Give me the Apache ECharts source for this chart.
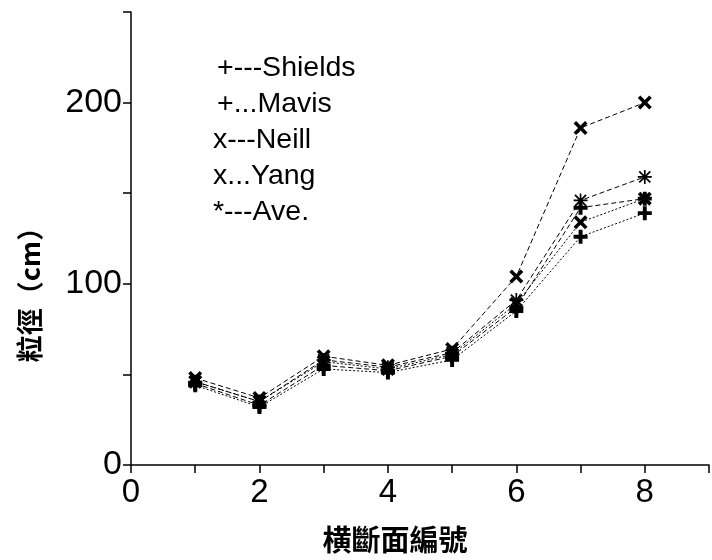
<!DOCTYPE html>
<html><head><meta charset="utf-8">
<script src="https://cdn.jsdelivr.net/npm/echarts@6/dist/echarts.min.js"></script>
<style>html,body{margin:0;padding:0;background:#fff}#c{width:712px;height:560px}</style>
</head><body><div id="c"></div>
<script>
const xValues = [1, 2, 3, 4, 5, 6, 7, 8];
const shields = [45, 33, 55, 52, 60, 87, 142, 147];
const mavis   = [44, 32, 53, 51, 58, 85, 126, 139];
const neill   = [48, 37, 60, 55, 64, 104, 186, 200];
const yang    = [46, 35, 57, 53, 61, 89, 134, 147];
const ave     = [46, 35, 58, 54, 62, 91, 146, 159];
const legendLines = ['+---Shields', '+...Mavis', 'x---Neill', 'x...Yang', '*---Ave.'];
const xTickLabels = [0, 2, 4, 6, 8];
const yTickLabels = [0, 100, 200];

const PLUS = 'path://M3.6,0H6.4V3.6H10V6.4H6.4V10H3.6V6.4H0V3.6H3.6Z';
const CROSS = 'path://M0,1.8L1.8,0L5,3.2L8.2,0L10,1.8L6.8,5L10,8.2L8.2,10L5,6.8L1.8,10L0,8.2L3.2,5Z';
const STAR = 'path://M4.4,0H5.6V4.4H10V5.6H5.6V10H4.4V5.6H0V4.4H4.4Z M0.6,1.5L1.5,0.6L5,4.1L8.5,0.6L9.4,1.5L5.9,5L9.4,8.5L8.5,9.4L5,5.9L1.5,9.4L0.6,8.5L4.1,5Z';

function pairs(arr){ return xValues.map((x,i)=>[x, arr[i]]); }
function mk(name, arr, sym, dash){
  return {
    name, type:'line', data: pairs(arr), symbol: sym, symbolSize: 14,
    showAllSymbol: true, animation:false,
    lineStyle:{color:'#000', width:1, type: dash},
    itemStyle:{color:'#000'}
  };
}
const chart = echarts.init(document.getElementById('c'));
const legendGraphics = legendLines.map((t,i)=>({
  type:'text', left: (i<2?217:213), top: 54 + i*35.8,
  style:{text:t, fill:'#000', font:'28.5px "Liberation Sans", Arial, sans-serif'}
}));
chart.setOption({
  backgroundColor:'#fff',
  animation:false,
  grid:{left:131, top:12, width:585, bottom:95},
  xAxis:{type:'value', min:0, max:9, interval:1,
    axisLine:{lineStyle:{color:'#000', width:1.5}},
    axisTick:{show:true, length:8, lineStyle:{color:'#000', width:1.5}},
    axisLabel:{color:'#000', fontSize:33, fontFamily:'"Liberation Sans", Arial, sans-serif', margin:11,
      formatter:v=> xTickLabels.includes(v) ? String(v) : ''},
    splitLine:{show:false}},
  yAxis:{type:'value', min:0, max:250, interval:50,
    axisLine:{show:true, lineStyle:{color:'#000', width:1.5}},
    axisTick:{show:true, length:8, lineStyle:{color:'#000', width:1.5}},
    axisLabel:{color:'#000', fontSize:34, fontFamily:'"Liberation Sans", Arial, sans-serif', margin:9,
      formatter:v=> yTickLabels.includes(v) ? String(v) : ''},
    splitLine:{show:false}},
  graphic: legendGraphics.concat([
    {type:'text', x:30, y:288, rotation:Math.PI/2,
      style:{text:'粒徑（cm）', fill:'#000', font:'bold 27px "Noto Sans CJK TC", sans-serif', textAlign:'center', textVerticalAlign:'middle'}},
    {type:'text', x:395, y:540,
      style:{text:'横斷面編號', fill:'#000', font:'bold 29px "Noto Sans CJK TC", sans-serif', textAlign:'center', textVerticalAlign:'middle'}}
  ]),
  series:[
    mk('Shields', shields, PLUS, [5,3]),
    mk('Mavis', mavis, PLUS, [2,2]),
    mk('Neill', neill, CROSS, [5,3]),
    mk('Yang', yang, CROSS, [2,2]),
    mk('Ave.', ave, STAR, [5,3])
  ]
});
</script></body></html>
